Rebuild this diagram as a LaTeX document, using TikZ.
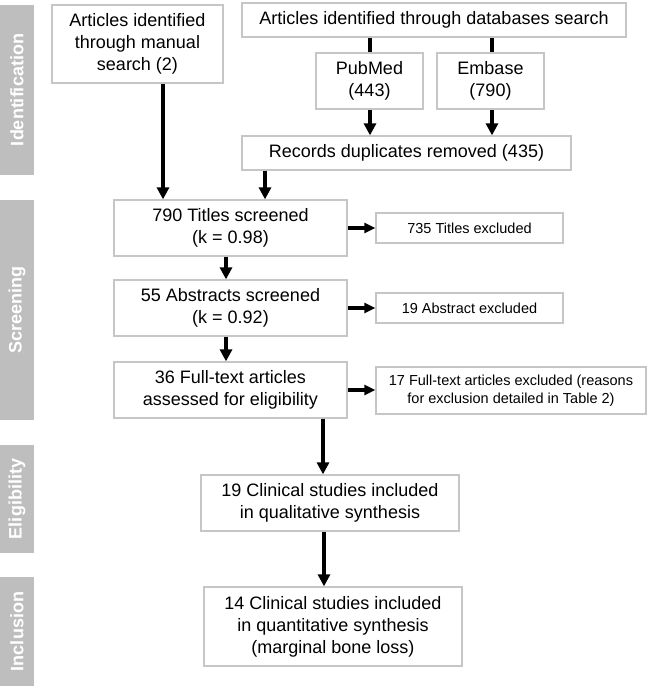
\documentclass[tikz,border=0pt]{standalone}
\usepackage{fontspec}
\setmainfont{Liberation Sans}
\usetikzlibrary{arrows.meta}
\definecolor{boxline}{HTML}{C6C6C6}
\definecolor{barfill}{HTML}{BEBEBE}
\tikzset{
  box/.style={draw=boxline, line width=1.3pt, fill=white, inner sep=0pt, align=center,
    font=\fontsize{18}{22}\selectfont},
  smallbox/.style={box, font=\fontsize{14.5}{18}\selectfont},
  bar/.style={fill=barfill, inner sep=0pt, rotate=90, text=white,
    font=\fontsize{18}{22}\selectfont\bfseries},
  arr/.style={line width=4.6pt, -{Triangle[width=12pt,length=12pt]}},
  harr/.style={line width=4pt, -{Triangle[width=10pt,length=11pt]}},
  link/.style={line width=4.6pt},
}
\begin{document}
\begin{tikzpicture}[x=1pt,y=-1pt]
\useasboundingbox (0,0) rectangle (651,694);
% side bars
\node[bar, minimum width=170, minimum height=34] (b1) at (17,90) {Identification};
\node[bar, minimum width=220, minimum height=34] (b2) at (17,310) {Screening};
\node[bar, minimum width=108, minimum height=34] (b3) at (17,499) {Eligibility};
\node[bar, minimum width=109, minimum height=34] (b4) at (17,631.5) {Inclusion};
% boxes
\node[box, minimum width=171, minimum height=78] (manual) at (137.5,44) {Articles identified\\through manual\\search (2)};
\node[box, minimum width=384, minimum height=34] (db) at (434,20) {Articles identified through databases search};
\node[box, minimum width=107, minimum height=56] (pubmed) at (369.5,81) {PubMed\\(443)};
\node[box, minimum width=107, minimum height=56] (embase) at (490.5,81) {Embase\\(790)};
\node[box, minimum width=329, minimum height=34] (records) at (406.5,153) {Records duplicates removed (435)};
\node[box, minimum width=233, minimum height=56] (titles) at (230.5,228) {790 Titles screened\\(k = 0.98)};
\node[box, minimum width=233, minimum height=56] (abstracts) at (230.5,308) {55 Abstracts screened\\(k = 0.92)};
\node[box, minimum width=233, minimum height=56] (full) at (230.5,390) {36 Full-text articles\\assessed for eligibility};
\node[smallbox, minimum width=187, minimum height=30] (ex1) at (469.5,228) {735 Titles excluded};
\node[smallbox, minimum width=187, minimum height=30] (ex2) at (469.5,308) {19 Abstract excluded};
\node[smallbox, minimum width=270, minimum height=47] (ex3) at (511,390.5) {17 Full-text articles excluded (reasons\\for exclusion detailed in Table 2)};
\node[box, minimum width=258, minimum height=56] (clin1) at (330,503) {19 Clinical studies included\\in qualitative synthesis};
\node[box, minimum width=258, minimum height=79] (clin2) at (333,626.5) {14 Clinical studies included\\in quantitative synthesis\\(marginal bone loss)};
% connectors
\draw[link] (370,0 |- db.south) -- (370,0 |- pubmed.north);
\draw[link] (492,0 |- db.south) -- (492,0 |- embase.north);
\draw[arr] (370,0 |- pubmed.south) -- (370,0 |- records.north);
\draw[arr] (492,0 |- embase.south) -- (492,0 |- records.north);
\draw[arr] (163,0 |- manual.south) -- (163,0 |- titles.north);
\draw[arr] (265,0 |- records.south) -- (265,0 |- titles.north);
\draw[arr] (226,0 |- titles.south) -- (226,0 |- abstracts.north);
\draw[arr] (226,0 |- abstracts.south) -- (226,0 |- full.north);
\draw[arr] (323,0 |- full.south) -- (323,0 |- clin1.north);
\draw[arr] (324,0 |- clin1.south) -- (324,0 |- clin2.north);
\draw[harr] (titles.east) -- (titles.east -| ex1.west);
\draw[harr] (abstracts.east) -- (abstracts.east -| ex2.west);
\draw[harr] (full.east) -- (full.east -| ex3.west);
\end{tikzpicture}
\end{document}
